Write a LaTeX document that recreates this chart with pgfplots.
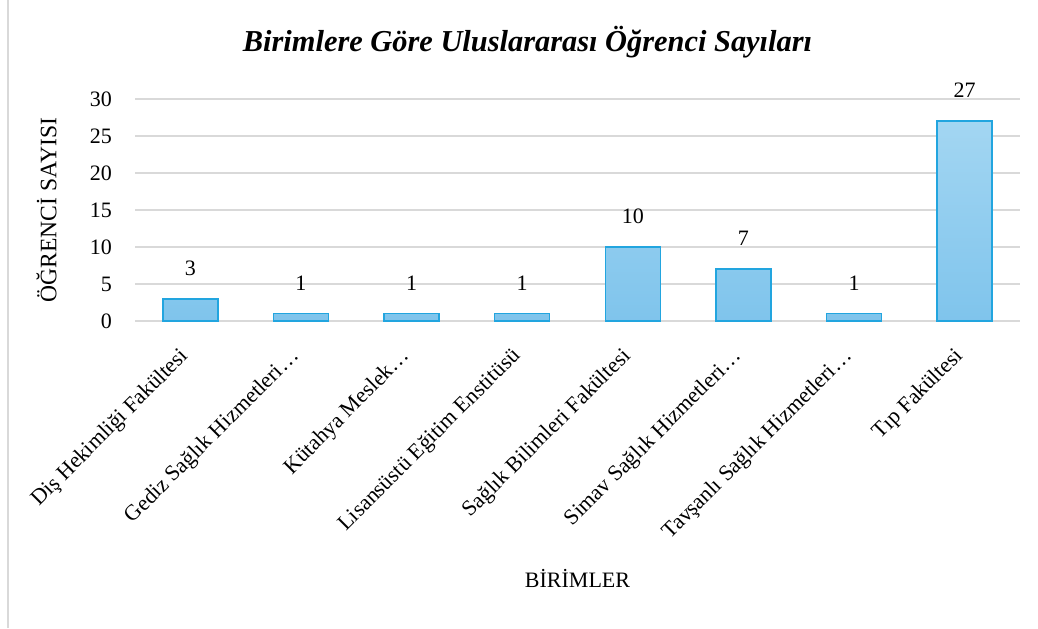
\documentclass[border=0pt]{standalone}
\usepackage{fontspec}
\setmainfont{Liberation Serif}
\usepackage{pgfplots}
\pgfplotsset{compat=1.18}
\definecolor{gridc}{HTML}{D9D9D9}
\definecolor{bartop}{HTML}{A3D6F2}
\definecolor{barbot}{HTML}{7FC4EC}
\definecolor{barline}{HTML}{22A5DF}
\begin{document}
\begin{tikzpicture}
\useasboundingbox (0,0) rectangle (519pt,314pt);
\draw[gridc, line width=0.75pt] (4pt,0) -- (4pt,314pt);
\node[font=\fontsize{15.2}{18}\selectfont\bfseries\itshape, anchor=base] at (263.75pt,288pt) {Birimlere Göre Uluslararası Öğrenci Sayıları};
\begin{axis}[
  at={(67.5pt,153.5pt)}, anchor=south west,
  scale only axis, width=442.5pt, height=111pt,
  xmin=-0.5, xmax=7.5, ymin=0, ymax=30,
  ytick={0,5,...,30},
  xtick=data,
  xticklabels={Diş Hekimliği Fakültesi, Gediz Sağlık Hizmetleri…, Kütahya Meslek…, Lisansüstü Eğitim Enstitüsü, Sağlık Bilimleri Fakültesi, Simav Sağlık Hizmetleri…, Tavşanlı Sağlık Hizmetleri…, Tıp Fakültesi},
  major tick length=0pt,
  axis line style={draw=none},
  ymajorgrids, grid style={gridc, line width=0.75pt},
  tick label style={font=\fontsize{11}{13}\selectfont},
  /pgf/number format/assume math mode=true,
  y tick label style={xshift=-8pt},
  x tick label style={rotate=45, anchor=east, xshift=-9.7pt, yshift=-9.7pt, font=\fontsize{11}{13}\selectfont},
  ylabel={ÖĞRENCİ SAYISI},
  ylabel style={at={(axis description cs:-0.10,0.5)}, anchor=center, font=\fontsize{11.8}{13}\selectfont},
  xlabel={BİRİMLER},
  xlabel style={at={(axis description cs:0.5,-1.158)}, anchor=center, font=\fontsize{11}{13}\selectfont},
  nodes near coords,
  every node near coord/.append style={font=\fontsize{11}{13}\selectfont, yshift=8pt},
  ybar, bar width=27.5pt,
]
\addplot[draw=barline, line width=0.75pt, top color=bartop, bottom color=barbot] coordinates {(0,3) (1,1) (2,1) (3,1) (4,10) (5,7) (6,1) (7,27)};
\end{axis}
\end{tikzpicture}
\end{document}
